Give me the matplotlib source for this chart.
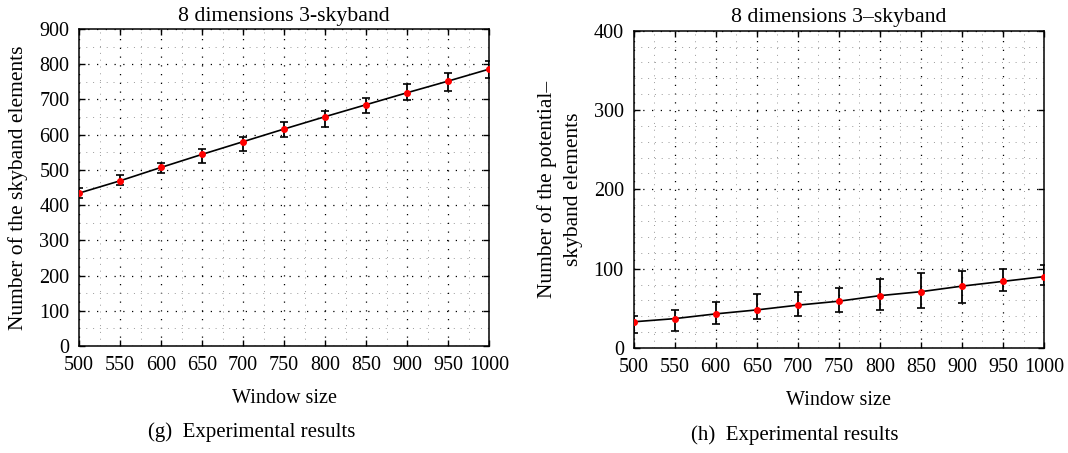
import numpy as np
import matplotlib
matplotlib.use("Agg")
from matplotlib import pyplot as plt
from matplotlib.ticker import MultipleLocator

plt.rcParams["font.family"] = ["Liberation Serif", "DejaVu Serif"]
plt.rcParams["font.size"] = 14.5

# 데이터
window = [500, 550, 600, 650, 700, 750, 800, 850, 900, 950, 1000]

# (g) skyband elements
g_mean = [434, 469, 507, 544, 580, 616, 651, 685, 719, 752, 786]
g_upper = [448, 485, 520, 559, 594, 635, 668, 705, 743, 776, 810]
g_lower = [419, 456, 490, 519, 555, 593, 623, 662, 697, 725, 762]

# (h) potential-skyband elements
h_mean = [33, 37, 43, 48, 54, 59, 66, 71, 78, 84, 90]
h_upper = [40, 48, 58, 68, 70, 76, 87, 94, 97, 100, 105]
h_lower = [19, 21, 30, 36, 40, 45, 48, 51, 57, 72, 80]

fig = plt.figure(figsize=(10.68, 4.53), dpi=100)
ax1 = fig.add_axes([0.0740, 0.2362, 0.3839, 0.6998])
ax2 = fig.add_axes([0.5932, 0.2318, 0.3844, 0.7004])


def draw(ax, mean, lower, upper, ymax, ymajor, yminor, title, ylabel, lsp=1.2):
    mean = np.array(mean)
    yerr = [mean - np.array(lower), np.array(upper) - mean]
    ax.errorbar(window, mean, yerr=yerr, fmt="none", ecolor="black",
                elinewidth=1.3, capsize=3, capthick=1.2, zorder=3)
    ax.plot(window, mean, color="black", lw=1.2, zorder=4)
    ax.plot(window, mean, "o", color="red", markersize=4, zorder=5)
    ax.set_xlim(500, 1000)
    ax.set_ylim(0, ymax)
    ax.set_xticks(window)
    ax.yaxis.set_major_locator(MultipleLocator(ymajor))
    ax.xaxis.set_minor_locator(MultipleLocator(25))
    ax.yaxis.set_minor_locator(MultipleLocator(yminor))
    # 점선 그리드 (major / minor)
    ax.grid(which="major", color="black", linestyle=(0, (1, 6)), lw=0.9)
    ax.grid(which="minor", color="#999999", linestyle=(0, (1, 6)), lw=0.7)
    ax.tick_params(which="major", direction="in", length=4, width=1,
                   top=True, right=True, pad=7)
    ax.tick_params(which="minor", length=0)
    for s in ax.spines.values():
        s.set_linewidth(1.1)
    ax.set_title(title, pad=6, fontsize=15.7)
    ax.set_xlabel("Window size", labelpad=10)
    ax.set_ylabel(ylabel, labelpad=8, fontsize=15.5, linespacing=lsp)
    ax.set_axisbelow(True)


draw(ax1, g_mean, g_lower, g_upper, 900, 100, 50,
     "8 dimensions 3-skyband", "Number of the skyband elements")
draw(ax2, h_mean, h_lower, h_upper, 400, 100, 20,
     "8 dimensions 3\u2013skyband",
     "Number of the potential\u2013\nskyband elements", lsp=1.45)

fig.text(0.236, 0.046, "(g)  Experimental results", ha="center", va="center", fontsize=15)
fig.text(0.744, 0.040, "(h)  Experimental results", ha="center", va="center", fontsize=15)

plt.savefig("out.png", dpi=100)
